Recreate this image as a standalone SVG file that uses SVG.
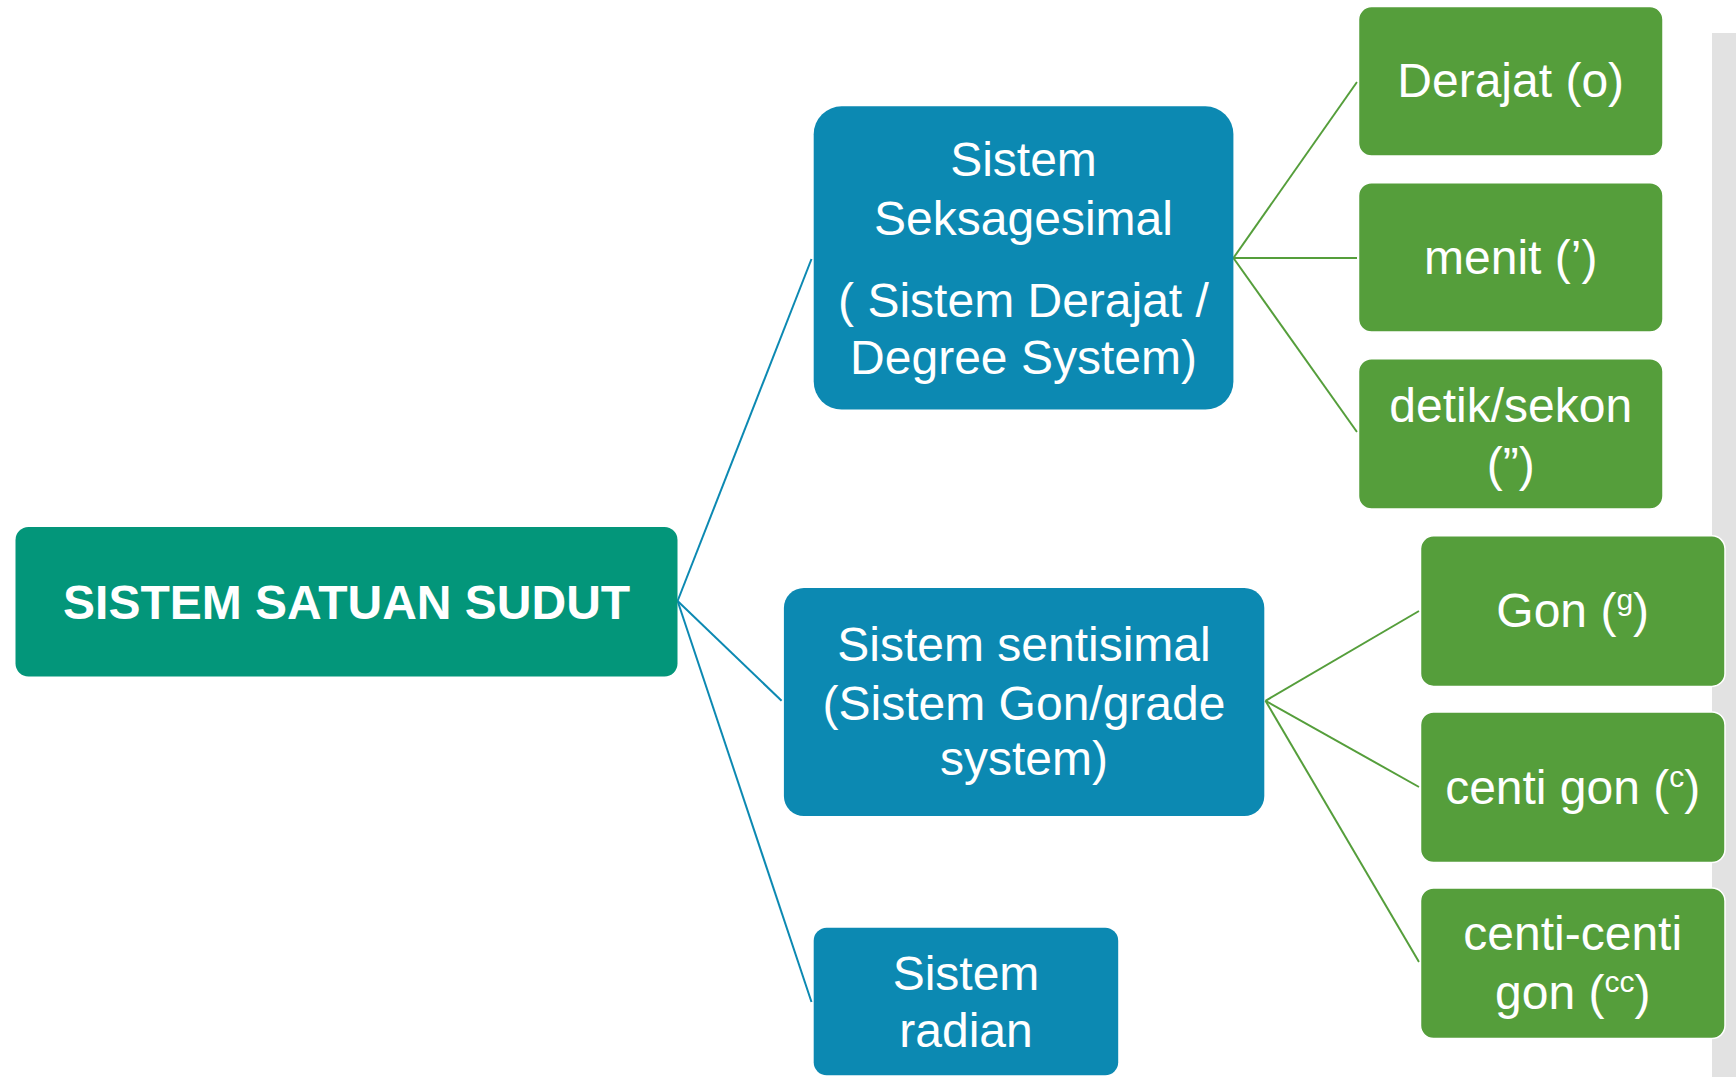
<svg xmlns="http://www.w3.org/2000/svg" width="1736" height="1077" viewBox="0 0 1736 1077">
<style>
.t{font-family:"Liberation Sans",Arial,sans-serif;font-size:48px;fill:#ffffff;text-anchor:middle}
.rt{font-family:"Liberation Sans",Arial,sans-serif;font-size:48px;font-weight:bold;fill:#ffffff;text-anchor:middle}
.blue{fill:#0c89b2}
.green{fill:#559e3b;stroke:#ffffff;stroke-width:1.5}
.cb{stroke:#0c89b2;stroke-width:2;fill:none}
.cg{stroke:#559e3b;stroke-width:2;fill:none}
</style>
<rect x="0" y="0" width="1736" height="1077" fill="#ffffff"/>
<rect x="1712" y="33" width="24" height="1044" fill="#e2e2e2"/>
<g id="connectors">
<line class="cb" x1="677.6" y1="601" x2="811.5" y2="259"/>
<line class="cb" x1="677.6" y1="601" x2="781.6" y2="700.8"/>
<line class="cb" x1="677.6" y1="601" x2="811.5" y2="1002"/>
<line class="cg" x1="1233.4" y1="258" x2="1357" y2="82"/>
<line class="cg" x1="1233.4" y1="258" x2="1357" y2="258"/>
<line class="cg" x1="1233.4" y1="258" x2="1357" y2="432"/>
<line class="cg" x1="1265.5" y1="700.8" x2="1419" y2="611"/>
<line class="cg" x1="1265.5" y1="700.8" x2="1419" y2="787"/>
<line class="cg" x1="1265.5" y1="700.8" x2="1419" y2="962"/>
</g>
<g id="root">
<rect x="15.5" y="527" width="662" height="149.5" rx="13" fill="#03967a"/>
<text class="rt" x="346.6" y="619">SISTEM SATUAN SUDUT</text>
</g>
<g id="seksagesimal">
<rect class="blue" x="813.7" y="106.3" width="419.7" height="303.3" rx="28"/>
<text class="t" x="1023.5" y="176">Sistem</text>
<text class="t" x="1023.5" y="234.7">Seksagesimal</text>
<text class="t" x="1023.5" y="316.6">( Sistem Derajat /</text>
<text class="t" x="1023.5" y="374">Degree System)</text>
</g>
<g id="sentisimal">
<rect class="blue" x="783.9" y="587.9" width="480.4" height="228.1" rx="20"/>
<text class="t" x="1024" y="661">Sistem sentisimal</text>
<text class="t" x="1024" y="719.6">(Sistem Gon/grade</text>
<text class="t" x="1024" y="775">system)</text>
</g>
<g id="radian">
<rect class="blue" x="813.7" y="927.8" width="304.5" height="147.5" rx="13"/>
<text class="t" x="966" y="990">Sistem</text>
<text class="t" x="966" y="1047">radian</text>
</g>
<g id="derajat">
<rect class="green" x="1358.5" y="6.6" width="304.5" height="149.4" rx="13"/>
<text class="t" x="1510.7" y="97.4">Derajat (o)</text>
</g>
<g id="menit">
<rect class="green" x="1358.5" y="182.7" width="304.5" height="149.3" rx="13"/>
<text class="t" x="1510.7" y="273.5">menit (’)</text>
</g>
<g id="detik">
<rect class="green" x="1358.5" y="358.7" width="304.5" height="150.3" rx="13"/>
<text class="t" x="1510.7" y="421.8">detik/sekon</text>
<text class="t" x="1510.7" y="480.5">(”)</text>
</g>
<g id="gon">
<rect class="green" x="1420.5" y="535.8" width="304.5" height="150.6" rx="13"/>
<text class="t" x="1572.7" y="626.6">Gon (<tspan font-size="30" dy="-17">g</tspan><tspan dy="17">)</tspan></text>
</g>
<g id="centigon">
<rect class="green" x="1420.5" y="711.9" width="304.5" height="150.6" rx="13"/>
<text class="t" x="1572.7" y="803.8">centi gon (<tspan font-size="30" dy="-17">c</tspan><tspan dy="17">)</tspan></text>
</g>
<g id="centicentigon">
<rect class="green" x="1420.5" y="888" width="304.5" height="150.5" rx="13"/>
<text class="t" x="1572.7" y="950">centi-centi</text>
<text class="t" x="1572.7" y="1008.6">gon (<tspan font-size="30" dy="-17">cc</tspan><tspan dy="17">)</tspan></text>
</g>
</svg>
